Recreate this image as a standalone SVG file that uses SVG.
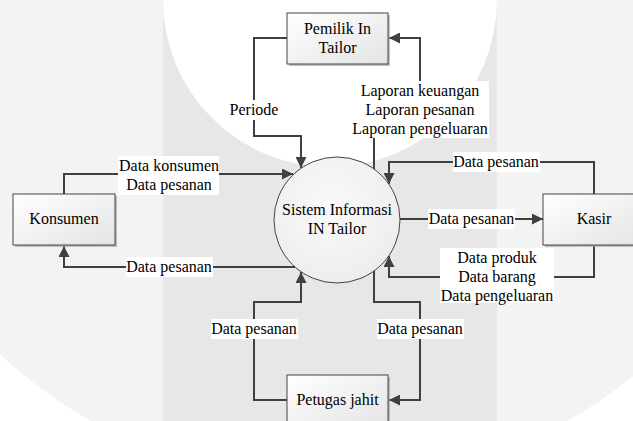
<svg xmlns="http://www.w3.org/2000/svg" width="633" height="421" viewBox="0 0 633 421">
<style>
.t text{font-family:'Liberation Serif','DejaVu Serif','Noto Serif',serif;font-size:16px;fill:#000;text-anchor:middle}
.box{fill:url(#bg);stroke:#444;stroke-width:1}
.sh{fill:#9a9a9a;opacity:0.6}
.con{fill:none;stroke:#404040;stroke-width:2;marker-end:url(#ah)}
.lb{fill:#fff}
</style>
<defs>
<linearGradient id="bg" x1="0" y1="0" x2="1" y2="1">
<stop offset="0" stop-color="#ffffff"/>
<stop offset="1" stop-color="#e4e4e4"/>
</linearGradient>
<radialGradient id="cg" cx="0.45" cy="0.4" r="0.65">
<stop offset="0" stop-color="#fafafa"/>
<stop offset="1" stop-color="#ececec"/>
</radialGradient>
<marker id="ah" markerUnits="userSpaceOnUse" markerWidth="12" markerHeight="11" refX="11" refY="5.5" orient="auto">
<path d="M0,0 L11,5.5 L0,11 z" fill="#404040"/>
</marker>
</defs>
<g id="background">
<rect width="633" height="421" fill="#ffffff"/>
<circle cx="329" cy="1" r="483" fill="#f3f3f3"/>
<rect x="163" y="0" width="334" height="421" fill="#e7e7e7"/>
<circle cx="330" cy="0" r="167" fill="#ffffff"/>
</g>
<g class="t">
<g id="connectors">
<path class="con" d="M287,38 H254 V136 H301 V168"/>
<path class="con" d="M374,169 V110 H420 V38 H389"/>
<path class="con" d="M64,194 V174 H293"/>
<path class="con" d="M295,267 H64 V246"/>
<path class="con" d="M594,194 V162 H389 V184"/>
<path class="con" d="M400,219 H543"/>
<path class="con" d="M594,246 V277 H389 V256"/>
<path class="con" d="M287,400 H254 V302 H301 V272"/>
<path class="con" d="M374,271 V302 H420 V400 H389"/>
<rect class="lb" x="229" y="100" width="50" height="20"/>
<text x="254" y="115">Periode</text>
<rect class="lb" x="350" y="81" width="139" height="57"/>
<text x="420" y="96">Laporan keuangan</text>
<text x="420" y="115">Laporan pesanan</text>
<text x="420" y="134">Laporan pengeluaran</text>
<rect class="lb" x="118" y="156" width="101" height="39"/>
<text x="169" y="171">Data konsumen</text>
<text x="169" y="190">Data pesanan</text>
<rect class="lb" x="126" y="257" width="87" height="20"/>
<text x="169" y="272">Data pesanan</text>
<rect class="lb" x="453" y="152" width="87" height="20"/>
<text x="496" y="167">Data pesanan</text>
<rect class="lb" x="428" y="209" width="87" height="20"/>
<text x="471.5" y="224">Data pesanan</text>
<rect class="lb" x="440" y="248" width="114" height="55"/>
<text x="497" y="263">Data produk</text>
<text x="497" y="282">Data barang</text>
<text x="497" y="301">Data pengeluaran</text>
<rect class="lb" x="211" y="319" width="87" height="20"/>
<text x="254" y="334">Data pesanan</text>
<rect class="lb" x="377" y="319" width="87" height="20"/>
<text x="420" y="334">Data pesanan</text>
</g>
<g id="pemilik">
<rect class="sh" x="289" y="15" width="101" height="51"/>
<rect class="box" x="287" y="13" width="101" height="51"/>
<text x="337.5" y="34">Pemilik In</text>
<text x="337.5" y="53">Tailor</text>
</g>
<g id="konsumen">
<rect class="sh" x="15" y="196" width="102" height="51"/>
<rect class="box" x="13" y="194" width="102" height="51"/>
<text x="64" y="224">Konsumen</text>
</g>
<g id="kasir">
<rect class="sh" x="545" y="196" width="102" height="51"/>
<rect class="box" x="543" y="194" width="102" height="51"/>
<text x="594" y="224">Kasir</text>
</g>
<g id="petugas">
<rect class="sh" x="289" y="377" width="101" height="51"/>
<rect class="box" x="287" y="375" width="101" height="51"/>
<text x="337.5" y="405">Petugas jahit</text>
</g>
<g id="sistem">
<circle cx="337" cy="220" r="63" fill="url(#cg)" stroke="#444" stroke-width="1"/>
<text x="337" y="215">Sistem Informasi</text>
<text x="337" y="234">IN Tailor</text>
</g>
</g>
</svg>
